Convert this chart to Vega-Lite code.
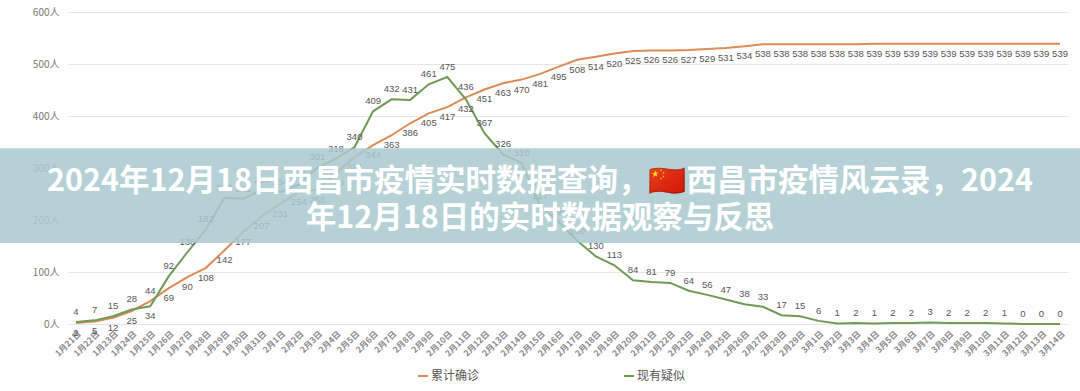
{
  "$schema": "https://vega.github.io/schema/vega-lite/v6.json",
  "width": 1000,
  "height": 312,
  "autosize": {"type": "none"},
  "padding": {"left": 68, "top": 12, "right": 12, "bottom": 67},
  "background": "white",
  "config": {"font": "Noto Sans CJK SC", "view": {"stroke": null}},
  "datasets": {
    "epi": [
    {"date":"1月21日","series":"累计确诊","value":2},{"date":"1月21日","series":"现有疑似","value":4},
    {"date":"1月22日","series":"累计确诊","value":5},{"date":"1月22日","series":"现有疑似","value":7},
    {"date":"1月23日","series":"累计确诊","value":12},{"date":"1月23日","series":"现有疑似","value":15},
    {"date":"1月24日","series":"累计确诊","value":25},{"date":"1月24日","series":"现有疑似","value":28},
    {"date":"1月25日","series":"累计确诊","value":44},{"date":"1月25日","series":"现有疑似","value":34},
    {"date":"1月26日","series":"累计确诊","value":69},{"date":"1月26日","series":"现有疑似","value":92},
    {"date":"1月27日","series":"累计确诊","value":90},{"date":"1月27日","series":"现有疑似","value":138},
    {"date":"1月28日","series":"累计确诊","value":108},{"date":"1月28日","series":"现有疑似","value":182},
    {"date":"1月29日","series":"累计确诊","value":142},{"date":"1月29日","series":"现有疑似","value":243},
    {"date":"1月30日","series":"累计确诊","value":177},{"date":"1月30日","series":"现有疑似","value":241},
    {"date":"1月31日","series":"累计确诊","value":207},{"date":"1月31日","series":"现有疑似","value":258},
    {"date":"2月1日","series":"累计确诊","value":231},{"date":"2月1日","series":"现有疑似","value":254},
    {"date":"2月2日","series":"累计确诊","value":254},{"date":"2月2日","series":"现有疑似","value":268},
    {"date":"2月3日","series":"累计确诊","value":258},{"date":"2月3日","series":"现有疑似","value":301},
    {"date":"2月4日","series":"累计确诊","value":290},{"date":"2月4日","series":"现有疑似","value":318},
    {"date":"2月5日","series":"累计确诊","value":321},{"date":"2月5日","series":"现有疑似","value":340},
    {"date":"2月6日","series":"累计确诊","value":344},{"date":"2月6日","series":"现有疑似","value":409},
    {"date":"2月7日","series":"累计确诊","value":363},{"date":"2月7日","series":"现有疑似","value":432},
    {"date":"2月8日","series":"累计确诊","value":386},{"date":"2月8日","series":"现有疑似","value":431},
    {"date":"2月9日","series":"累计确诊","value":405},{"date":"2月9日","series":"现有疑似","value":461},
    {"date":"2月10日","series":"累计确诊","value":417},{"date":"2月10日","series":"现有疑似","value":475},
    {"date":"2月11日","series":"累计确诊","value":436},{"date":"2月11日","series":"现有疑似","value":432},
    {"date":"2月12日","series":"累计确诊","value":451},{"date":"2月12日","series":"现有疑似","value":367},
    {"date":"2月13日","series":"累计确诊","value":463},{"date":"2月13日","series":"现有疑似","value":326},
    {"date":"2月14日","series":"累计确诊","value":470},{"date":"2月14日","series":"现有疑似","value":310},
    {"date":"2月15日","series":"累计确诊","value":481},{"date":"2月15日","series":"现有疑似","value":227},
    {"date":"2月16日","series":"累计确诊","value":495},{"date":"2月16日","series":"现有疑似","value":196},
    {"date":"2月17日","series":"累计确诊","value":508},{"date":"2月17日","series":"现有疑似","value":160},
    {"date":"2月18日","series":"累计确诊","value":514},{"date":"2月18日","series":"现有疑似","value":130},
    {"date":"2月19日","series":"累计确诊","value":520},{"date":"2月19日","series":"现有疑似","value":113},
    {"date":"2月20日","series":"累计确诊","value":525},{"date":"2月20日","series":"现有疑似","value":84},
    {"date":"2月21日","series":"累计确诊","value":526},{"date":"2月21日","series":"现有疑似","value":81},
    {"date":"2月22日","series":"累计确诊","value":526},{"date":"2月22日","series":"现有疑似","value":79},
    {"date":"2月23日","series":"累计确诊","value":527},{"date":"2月23日","series":"现有疑似","value":64},
    {"date":"2月24日","series":"累计确诊","value":529},{"date":"2月24日","series":"现有疑似","value":56},
    {"date":"2月25日","series":"累计确诊","value":531},{"date":"2月25日","series":"现有疑似","value":47},
    {"date":"2月26日","series":"累计确诊","value":534},{"date":"2月26日","series":"现有疑似","value":38},
    {"date":"2月27日","series":"累计确诊","value":538},{"date":"2月27日","series":"现有疑似","value":33},
    {"date":"2月28日","series":"累计确诊","value":538},{"date":"2月28日","series":"现有疑似","value":17},
    {"date":"2月29日","series":"累计确诊","value":538},{"date":"2月29日","series":"现有疑似","value":15},
    {"date":"3月1日","series":"累计确诊","value":538},{"date":"3月1日","series":"现有疑似","value":6},
    {"date":"3月2日","series":"累计确诊","value":538},{"date":"3月2日","series":"现有疑似","value":1},
    {"date":"3月3日","series":"累计确诊","value":538},{"date":"3月3日","series":"现有疑似","value":2},
    {"date":"3月4日","series":"累计确诊","value":539},{"date":"3月4日","series":"现有疑似","value":1},
    {"date":"3月5日","series":"累计确诊","value":539},{"date":"3月5日","series":"现有疑似","value":2},
    {"date":"3月6日","series":"累计确诊","value":539},{"date":"3月6日","series":"现有疑似","value":2},
    {"date":"3月7日","series":"累计确诊","value":539},{"date":"3月7日","series":"现有疑似","value":3},
    {"date":"3月8日","series":"累计确诊","value":539},{"date":"3月8日","series":"现有疑似","value":2},
    {"date":"3月9日","series":"累计确诊","value":539},{"date":"3月9日","series":"现有疑似","value":2},
    {"date":"3月10日","series":"累计确诊","value":539},{"date":"3月10日","series":"现有疑似","value":2},
    {"date":"3月11日","series":"累计确诊","value":539},{"date":"3月11日","series":"现有疑似","value":1},
    {"date":"3月12日","series":"累计确诊","value":539},{"date":"3月12日","series":"现有疑似","value":0},
    {"date":"3月13日","series":"累计确诊","value":539},{"date":"3月13日","series":"现有疑似","value":0},
    {"date":"3月14日","series":"累计确诊","value":539},{"date":"3月14日","series":"现有疑似","value":0}
    ],
    "banner": [
      {"line": 1, "text": "2024年12月18日西昌市疫情实时数据查询，🇨🇳西昌市疫情风云录，2024"},
      {"line": 2, "text": "年12月18日的实时数据观察与反思"}
    ]
  },
  "layer": [
    {"data": {"name": "epi"},
     "mark": {"type": "line", "strokeWidth": 2},
     "encoding": {
       "x": {"field": "date", "type": "ordinal", "sort": null,
         "scale": {"type": "point", "padding": 0.43},
         "axis": {"title": null, "labelAngle": -45, "labelFontSize": 8.5, "labelColor": "#8a8a8a", "labelPadding": 5, "domain": false, "ticks": false, "grid": false, "labelFontWeight": "bold"}},
       "y": {"field": "value", "type": "quantitative",
         "scale": {"domain": [0, 600], "nice": false},
         "axis": {"title": null, "values": [0,100,200,300,400,500,600], "labelExpr": "datum.value + '人'", "labelFontSize": 10, "labelColor": "#777", "labelPadding": 9, "domain": false, "ticks": false, "grid": true, "gridColor": "#e6e6e6"}},
       "color": {"field": "series", "type": "nominal",
         "scale": {"domain": ["累计确诊", "现有疑似"], "range": ["#dd8b57", "#6f9b57"]},
         "legend": {"orient": "none", "legendX": 349, "legendY": 358, "direction": "horizontal", "title": null, "symbolType": "stroke", "symbolStrokeWidth": 2, "symbolSize": 100, "labelFontSize": 12, "labelColor": "#555", "columnPadding": 140, "labelOffset": 2}}}},
    {"data": {"name": "epi"},
     "transform": [{"filter": "datum.series == '累计确诊' && datum.date != '1月25日' && datum.date != '2月11日'"}],
     "mark": {"type": "text", "dy": 10, "fontSize": 9.5, "color": "#555", "font": "Liberation Sans"},
     "encoding": {"x": {"field": "date", "type": "ordinal", "sort": null}, "y": {"field": "value", "type": "quantitative"}, "text": {"field": "value"}}},
    {"data": {"name": "epi"},
     "transform": [{"filter": "datum.series == '累计确诊' && (datum.date == '1月25日' || datum.date == '2月11日')"}],
     "mark": {"type": "text", "dy": -10, "fontSize": 9.5, "color": "#555", "font": "Liberation Sans"},
     "encoding": {"x": {"field": "date", "type": "ordinal", "sort": null}, "y": {"field": "value", "type": "quantitative"}, "text": {"field": "value"}}},
    {"data": {"name": "epi"},
     "transform": [{"filter": "datum.series == '现有疑似' && datum.date != '1月25日' && datum.date != '2月11日'"}],
     "mark": {"type": "text", "dy": -10, "fontSize": 9.5, "color": "#555", "font": "Liberation Sans"},
     "encoding": {"x": {"field": "date", "type": "ordinal", "sort": null}, "y": {"field": "value", "type": "quantitative"}, "text": {"field": "value"}}},
    {"data": {"name": "epi"},
     "transform": [{"filter": "datum.series == '现有疑似' && (datum.date == '1月25日' || datum.date == '2月11日')"}],
     "mark": {"type": "text", "dy": 10, "fontSize": 9.5, "color": "#555", "font": "Liberation Sans"},
     "encoding": {"x": {"field": "date", "type": "ordinal", "sort": null}, "y": {"field": "value", "type": "quantitative"}, "text": {"field": "value"}}},
    {"data": {"name": "banner"},
     "transform": [{"filter": "datum.line == 1"}],
     "mark": {"type": "rect", "color": "#a9c9cf", "opacity": 0.85},
     "encoding": {"x": {"value": -68}, "x2": {"value": 1012}, "y": {"datum": 338}, "y2": {"datum": 156}}},
    {"data": {"name": "banner"},
     "transform": [{"filter": "datum.line == 1"}],
     "mark": {"type": "text", "color": "white", "fontSize": 30.5, "fontWeight": "bold", "align": "center", "baseline": "middle"},
     "encoding": {"x": {"value": 472}, "y": {"datum": 273}, "text": {"field": "text"}}},
    {"data": {"name": "banner"},
     "transform": [{"filter": "datum.line == 2"}],
     "mark": {"type": "text", "color": "white", "fontSize": 30.5, "fontWeight": "bold", "align": "center", "baseline": "middle"},
     "encoding": {"x": {"value": 472}, "y": {"datum": 201}, "text": {"field": "text"}}}
  ]
}
